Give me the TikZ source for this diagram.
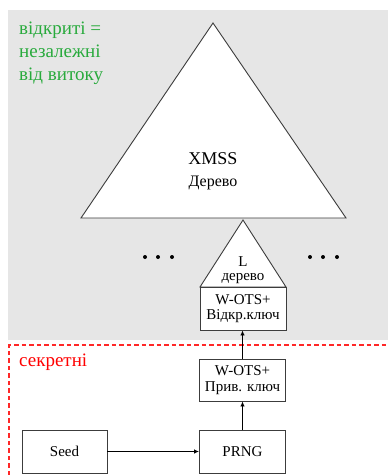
\documentclass[tikz,border=0pt]{standalone}
\usepackage{fontspec}
\setmainfont{Liberation Serif}
\usetikzlibrary{arrows.meta}
\definecolor{bggray}{RGB}{230,230,230}
\definecolor{grtxt}{RGB}{40,170,60}
\definecolor{edge}{RGB}{60,60,60}
\definecolor{secred}{RGB}{255,40,40}
\tikzset{
  box/.style={draw=edge, line width=0.9pt, fill=white, minimum width=86pt, minimum height=43pt, inner sep=1pt, align=center, font=\fontsize{15}{15.5}\selectfont},
  tri/.style={draw=edge, line width=0.9pt, fill=white, line join=miter},
  conn/.style={line width=0.9pt, -{Latex[length=5pt,width=4.5pt]}},
  dotc/.style={fill=black, draw=none},
  secline/.style={color=secred, line width=1.1pt, dash pattern=on 4.5pt off 3pt}
}
\begin{document}
\begin{tikzpicture}[x=1pt,y=-1pt]
\useasboundingbox (0,0) rectangle (388,475);
% backgrounds
\fill[bggray] (8,10) rectangle (388,340);
\coordinate (d1) at (9,475);
\coordinate (d2) at (9,345);
\coordinate (d3) at (388,345);
\draw[secline] (d1) -- (d2) -- (d3);
% big triangle
\coordinate (bA) at (213,23);
\coordinate (bL) at (81,218);
\coordinate (bR) at (346,218);
\draw[tri] (bA) -- (bL) -- (bR) -- cycle;
\node[font=\fontsize{18}{18}\selectfont] (xmss) at (213,159) {XMSS};
\node[font=\fontsize{16}{16}\selectfont] (der) at (213,183) {Дерево};
% small triangle
\coordinate (sA) at (243,220);
\coordinate (sL) at (200,287);
\coordinate (sR) at (286,287);
\draw[tri] (sA) -- (sL) -- (sR) -- cycle;
\node[align=center, inner sep=0pt, font=\fontsize{15}{14.5}\selectfont] (lt) at (243,270) {L\\дерево};
% dots
\foreach \i/\x in {1/145,2/158,3/172,4/310,5/323,6/337}{
  \fill[dotc] (\x,257) circle (2pt);
}
% boxes
\node[box] (pub) at (243,308.5) {W-OTS+\\Відкр.ключ};
\node[box, minimum height=42pt] (priv) at (242.5,380) {W-OTS+\\Прив. ключ};
\node[box] (prng) at (242.5,451.5) {PRNG};
\node[box, minimum width=85pt] (seed) at (64.5,451.5) {Seed};
% connectors
\draw[conn] (seed.east) -- (prng.west);
\draw[conn] (prng.north) -- (priv.south);
\draw[conn] (priv.north) -- (pub.south -| priv.north);
% labels
\node[anchor=west, align=left, text=grtxt, font=\fontsize{19}{23}\selectfont, inner sep=0pt] (open) at (19,53) {відкриті =\\незалежні\\від витоку};
\node[anchor=west, text=red, font=\fontsize{19}{19}\selectfont, inner sep=0pt] (sec) at (19,362) {секретні};
\end{tikzpicture}
\end{document}
